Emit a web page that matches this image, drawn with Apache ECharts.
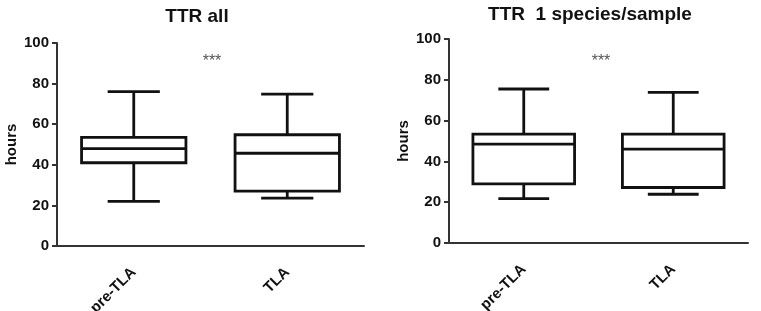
<!DOCTYPE html>
<html>
<head>
<meta charset="utf-8">
<script src="https://cdn.jsdelivr.net/npm/echarts@6/dist/echarts.min.js"></script>
<style>
  html, body { margin: 0; padding: 0; background: #fff; }
  #main { width: 761px; height: 311px; }
</style>
</head>
<body>
<div id="main"></div>
<script>
// categories and box stats [min, Q1, median, Q3, max]
var groups = ['pre-TLA', 'TLA'];
var allPre = [22, 41, 48, 53.5, 76];
var allTla = [23.6, 27, 45.7, 54.8, 74.8];
var onePre = [21.8, 29, 48.5, 53.4, 75.5];
var oneTla = [23.9, 27.2, 46, 53.4, 73.8];
var yTicks = [0, 20, 40, 60, 80, 100];

var font = '"Liberation Sans", Arial, sans-serif';
var myChart = echarts.init(document.getElementById('main'));

function rows(a, b) {
    return [[0].concat(a), [1].concat(b)];
}

// box with half-width whisker caps, drawn through the axis scales
function renderBox(params, api) {
    var idx = api.value(0);
    var band = api.size([1, 0])[0];
    var lo = api.coord([idx, api.value(1)]);
    var q1 = api.coord([idx, api.value(2)]);
    var md = api.coord([idx, api.value(3)]);
    var q3 = api.coord([idx, api.value(4)]);
    var hi = api.coord([idx, api.value(5)]);
    var x = lo[0];
    var bw = band * 0.68 / 2;
    var cw = band * 0.34 / 2;
    var st = { stroke: '#111', lineWidth: 2.8, fill: null };
    return {
        type: 'group',
        children: [
            { type: 'line', shape: { x1: x, y1: hi[1], x2: x, y2: q3[1] }, style: st },
            { type: 'line', shape: { x1: x, y1: q1[1], x2: x, y2: lo[1] }, style: st },
            { type: 'line', shape: { x1: x - cw, y1: hi[1], x2: x + cw, y2: hi[1] }, style: st },
            { type: 'line', shape: { x1: x - cw, y1: lo[1], x2: x + cw, y2: lo[1] }, style: st },
            { type: 'rect', shape: { x: x - bw, y: q3[1], width: bw * 2, height: q1[1] - q3[1] }, style: st },
            { type: 'line', shape: { x1: x - bw, y1: md[1], x2: x + bw, y2: md[1] }, style: st }
        ]
    };
}

function xAxis(i) {
    return {
        gridIndex: i,
        type: 'category',
        data: groups,
        boundaryGap: true,
        axisLine: { lineStyle: { color: '#333', width: 2 } },
        axisTick: { alignWithLabel: true, length: 6, lineStyle: { color: '#333', width: 2 } },
        axisLabel: { rotate: 45, margin: 24, color: '#111', fontSize: 15, fontWeight: 'bold', fontFamily: font }
    };
}

function yAxis(i) {
    return {
        gridIndex: i,
        type: 'value',
        min: 0,
        max: 100,
        interval: 20,
        name: 'hours',
        nameLocation: 'middle',
        nameRotate: 90,
        nameGap: 38,
        nameTextStyle: { color: '#111', fontSize: 15, fontWeight: 'bold', fontFamily: font },
        splitLine: { show: false },
        axisLine: { show: true, lineStyle: { color: '#333', width: 2 } },
        axisTick: { show: true, length: 5, lineStyle: { color: '#333', width: 2 } },
        axisLabel: { margin: 8, color: '#111', fontSize: 15, fontWeight: 'bold', fontFamily: font }
    };
}

var option = {
    animation: false,
    backgroundColor: '#fff',
    title: [
        { text: 'TTR all', left: 192, top: 2, textAlign: 'center',
          textStyle: { fontSize: 19, fontWeight: 'bold', color: '#111', fontFamily: font } },
        { text: 'TTR  1 species/sample', left: 585, top: 0, textAlign: 'center',
          textStyle: { fontSize: 19, fontWeight: 'bold', color: '#111', fontFamily: font } }
    ],
    grid: [
        { left: 57, top: 43, right: 397, bottom: 65, containLabel: false, outerBoundsMode: 'none' },
        { left: 449, top: 39, right: 13, bottom: 68, containLabel: false, outerBoundsMode: 'none' }
    ],
    xAxis: [xAxis(0), xAxis(1)],
    yAxis: [yAxis(0), yAxis(1)],
    series: [
        { type: 'custom', xAxisIndex: 0, yAxisIndex: 0, renderItem: renderBox,
          encode: { x: 0, y: [1, 2, 3, 4, 5] }, data: rows(allPre, allTla) },
        { type: 'custom', xAxisIndex: 1, yAxisIndex: 1, renderItem: renderBox,
          encode: { x: 0, y: [1, 2, 3, 4, 5] }, data: rows(onePre, oneTla) }
    ],
    graphic: [
        { type: 'text', x: 212, y: 62, style: { text: '***', fontSize: 16, fill: '#555', fontFamily: font, textAlign: 'center', textVerticalAlign: 'middle' } },
        { type: 'text', x: 601, y: 62, style: { text: '***', fontSize: 16, fill: '#555', fontFamily: font, textAlign: 'center', textVerticalAlign: 'middle' } }
    ]
};

myChart.setOption(option);
</script>
</body>
</html>
